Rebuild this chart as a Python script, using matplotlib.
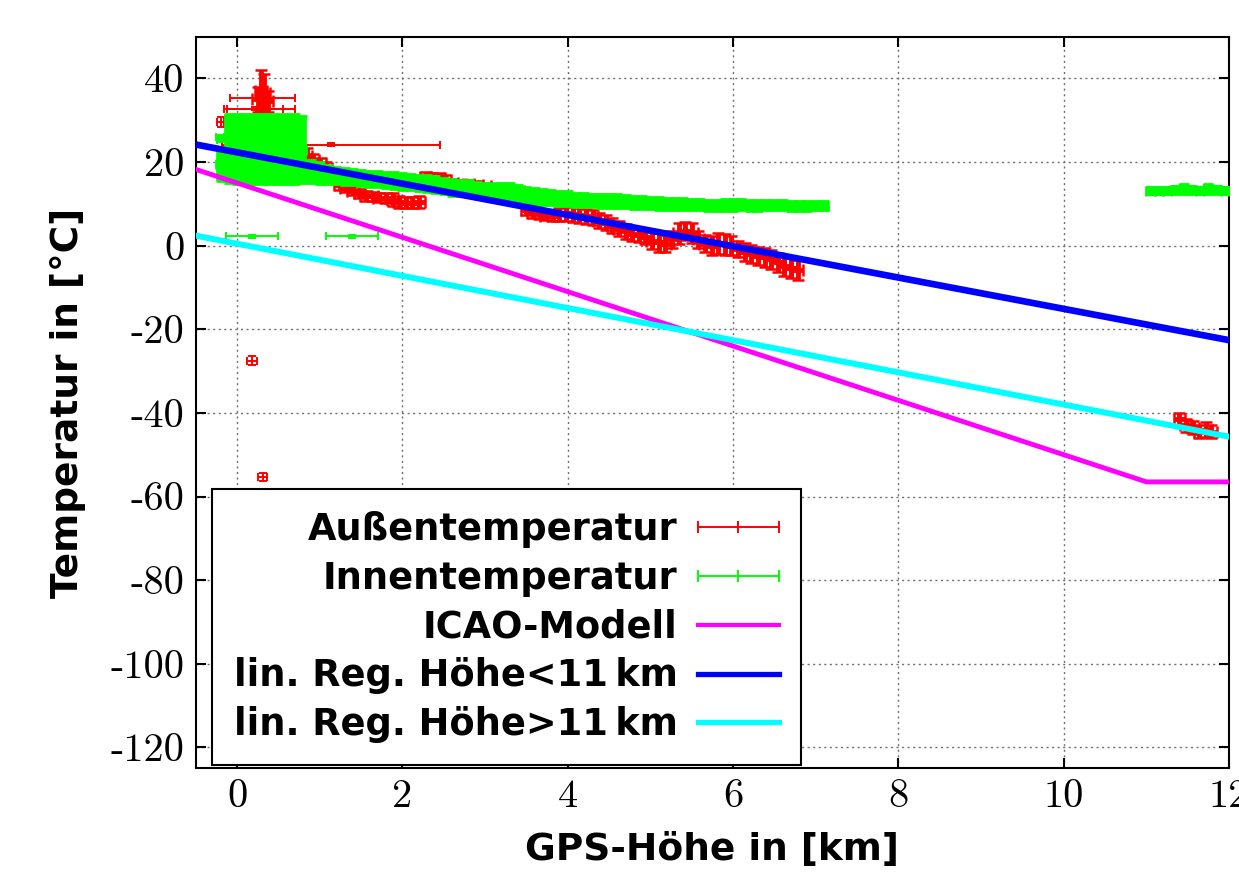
import numpy as np
import matplotlib.pyplot as plt
from matplotlib.legend_handler import HandlerErrorbar

# Außentemperatur, Einzelwerte mit großen Fehlern: Höhe [km], Temperatur [°C]
aussen_boden_x = [0.31, 0.27, 0.22, -0.20, 1.14, 0.18, 0.31]
aussen_boden_y = [35.4, 32.6, 32.8, 29.5, 24.2, -27.5, -55.4]
aussen_boden_xerr = [0.39, 0.43, 0.34, 0.04, 1.32, 0.055, 0.055]
aussen_boden_yerr = [0.3, 0.3, 0.3, 1.2, 0.3, 1.0, 1.0]

# Außentemperatur, dichter Verlauf (Boden-Spitze, Flug, Reiseflughöhe)
aussen_flug_x = [0.25, 0.29, 0.33, 0.37,
                 0.76, 0.84, 0.92, 1.00, 1.08, 1.16, 1.24, 1.32, 1.40, 1.48,
                 1.56, 1.64, 1.72, 1.80, 1.88, 1.96, 2.04, 2.12, 2.20, 2.28,
                 2.36, 2.44, 2.52, 2.60, 2.70, 2.80, 2.90, 3.00, 3.10, 3.20,
                 3.30, 3.40, 3.50, 3.58, 3.66, 3.74, 3.82, 3.90, 3.98, 4.06,
                 4.14, 4.22, 4.30, 4.38, 4.46, 4.54, 4.62, 4.70, 4.78, 4.86,
                 4.94, 5.02, 5.10, 5.18, 5.26, 5.34, 5.42, 5.50, 5.58, 5.66,
                 5.74, 5.82, 5.90, 5.98, 6.06, 6.14, 6.22, 6.30, 6.38, 6.46,
                 6.54, 6.62, 6.70, 6.78, 11.40, 11.48, 11.56, 11.64, 11.72, 11.78]
aussen_flug_y = [35.0, 37.0, 36.5, 34.5,
                 22.5, 21.5, 20.5, 19.8, 18.5, 16.5, 14.5, 13.8, 13.2, 12.5,
                 12.0, 11.8, 11.5, 11.5, 11.0, 10.5, 10.3, 10.3, 10.5, 16.5,
                 16.0, 16.2, 15.8, 15.0, 14.8, 14.7, 14.5, 14.2, 13.8, 13.5,
                 13.3, 13.0, 8.5, 7.8, 7.5, 7.2, 7.0, 7.5, 7.8, 7.5,
                 7.3, 7.0, 6.8, 6.0, 5.5, 4.8, 4.0, 3.5, 2.8, 2.5,
                 2.0, 1.2, 0.8, 0.5, 1.5, 3.0, 3.5, 3.0, 1.5, 0.5,
                 0.0, 0.5, 0.3, 0.0, -0.8, -1.5, -2.0, -2.5, -2.8, -3.3,
                 -4.0, -4.8, -5.3, -5.8, -41.5, -43.0, -43.5, -44.5, -44.0, -44.5]
aussen_flug_yerr = [3.0, 5.0, 4.5, 2.5,
                    1.5, 1.8, 1.5, 1.2, 1.5, 1.5, 1.2, 1.0, 1.0, 1.0,
                    1.2, 1.0, 1.0, 1.2, 1.5, 1.5, 1.3, 1.3, 1.5, 1.2,
                    1.3, 1.3, 1.2, 1.0, 0.9, 0.9, 0.9, 0.9, 1.0, 0.8,
                    0.8, 0.8, 1.2, 1.2, 1.0, 1.0, 1.0, 1.5, 1.8, 1.8,
                    1.8, 1.8, 1.8, 1.8, 1.8, 1.8, 1.8, 1.8, 1.6, 1.6,
                    1.6, 2.0, 2.2, 2.0, 2.0, 2.5, 2.2, 2.4, 2.0, 2.0,
                    2.2, 2.5, 2.5, 2.2, 2.0, 2.2, 2.2, 2.2, 2.2, 2.2,
                    2.2, 2.5, 2.5, 2.3, 1.5, 1.5, 1.5, 1.5, 1.8, 1.5]
aussen_flug_xerr = 0.07

# Innentemperatur: Einzelwerte
innen_einzel_x = [-0.21, -0.19, 0.18, 1.39]
innen_einzel_y = [26.0, 25.2, 2.2, 2.2]
innen_einzel_xerr = [0.05, 0.05, 0.31, 0.31]
innen_einzel_yerr = [0.4, 0.3, 0.3, 0.3]

# Innentemperatur: dichter Verlauf (Boden, Flug, Reiseflughöhe)
innen_x = [-0.20, -0.10, 0.00, 0.10, 0.20, 0.30, 0.40, 0.50, 0.60, 0.70,
           0.78, 0.90, 1.00, 1.10, 1.20, 1.30, 1.40, 1.50, 1.60, 1.70,
           1.80, 1.90, 2.00, 2.10, 2.20, 2.30, 2.40, 2.50, 2.60, 2.70,
           2.80, 2.90, 3.00, 3.10, 3.20, 3.30, 3.40, 3.50, 3.60, 3.70,
           3.80, 3.90, 4.00, 4.10, 4.20, 4.30, 4.40, 4.50, 4.60, 4.70,
           4.80, 4.90, 5.00, 5.10, 5.20, 5.30, 5.40, 5.50, 5.60, 5.70,
           5.80, 5.90, 6.00, 6.10, 6.20, 6.30, 6.40, 6.50, 6.60, 6.70,
           6.80, 6.90, 7.00, 7.10,
           11.05, 11.15, 11.25, 11.35, 11.45, 11.55, 11.65, 11.75, 11.85, 11.95]
innen_y = [19.5, 23.2, 23.2, 23.2, 23.2, 23.2, 23.2, 23.2, 23.2, 23.2,
           23.0, 17.8, 17.3, 17.0, 16.8, 16.6, 16.4, 16.2, 16.0, 15.9,
           15.7, 15.6, 15.3, 15.2, 15.0, 14.8, 14.6, 14.3, 14.0, 13.8,
           13.6, 13.3, 13.0, 12.9, 12.7, 12.6, 12.3, 12.0, 11.8, 11.6,
           11.5, 11.4, 11.3, 11.0, 10.9, 10.8, 10.7, 10.7, 10.6, 10.5,
           10.4, 10.3, 10.2, 10.1, 10.0, 9.9, 9.9, 9.8, 9.8, 9.7,
           9.7, 9.7, 9.8, 9.8, 9.7, 9.7, 9.7, 9.7, 9.7, 9.6,
           9.6, 9.6, 9.6, 9.6,
           13.2, 13.2, 13.2, 13.3, 13.6, 13.3, 13.2, 13.6, 13.3, 13.2]
innen_yerr = [4.0, 8.3, 8.4, 8.4, 8.4, 8.4, 8.4, 8.4, 8.4, 8.4,
              8.0, 2.8, 2.6, 2.3, 2.0, 2.0, 1.9, 1.9, 1.9, 1.9,
              2.0, 2.0, 2.0, 1.9, 2.0, 2.0, 2.0, 2.0, 2.0, 2.0,
              2.0, 1.9, 1.9, 2.1, 2.2, 2.4, 2.3, 2.0, 2.0, 1.9,
              1.8, 1.8, 1.8, 1.7, 1.7, 1.6, 1.6, 1.7, 1.7, 1.6,
              1.6, 1.6, 1.5, 1.5, 1.5, 1.4, 1.4, 1.3, 1.3, 1.3,
              1.3, 1.4, 1.4, 1.3, 1.3, 1.3, 1.2, 1.2, 1.2, 1.2,
              1.2, 1.2, 1.1, 1.1,
              0.9, 0.9, 0.9, 1.0, 1.2, 0.9, 0.9, 1.2, 0.9, 0.9]
innen_xerr = 0.05

# ICAO-Standardatmosphäre und lineare Regressionen
icao_x = [-0.5, 11.0, 12.0]
icao_y = [18.25, -56.5, -56.5]
reg_unten_x = [-0.5, 12.0]
reg_unten_y = [24.2, -22.6]
reg_oben_x = [-0.5, 12.0]
reg_oben_y = [2.4, -45.7]

x_ticks = [0, 2, 4, 6, 8, 10, 12]
y_ticks = [40, 20, 0, -20, -40, -60, -80, -100, -120]


def main():
    plt.rcParams['font.family'] = 'cmr10'
    plt.rcParams['axes.unicode_minus'] = False

    fig, ax = plt.subplots(figsize=(12.39, 8.73), dpi=100)
    fig.subplots_adjust(left=0.158, right=0.992, bottom=0.120, top=0.958)

    # Messwerte außen
    ax.errorbar(aussen_boden_x, aussen_boden_y, xerr=aussen_boden_xerr,
                yerr=aussen_boden_yerr, fmt='none', ecolor='#ff0000',
                elinewidth=1.4, capsize=3, capthick=1.4, zorder=2)
    ax.errorbar(aussen_flug_x, aussen_flug_y, xerr=aussen_flug_xerr,
                yerr=aussen_flug_yerr, fmt='none', ecolor='#ff0000',
                elinewidth=3.5, capsize=4, capthick=1.8, zorder=2)

    # Messwerte innen
    ax.errorbar(innen_einzel_x, innen_einzel_y, xerr=innen_einzel_xerr,
                yerr=innen_einzel_yerr, fmt='none', ecolor='#00ff00',
                elinewidth=1.4, capsize=3, capthick=1.4, zorder=3)
    ax.errorbar(innen_x, innen_y, xerr=innen_xerr, yerr=innen_yerr,
                fmt='none', ecolor='#00ff00', elinewidth=7, capsize=3.5,
                capthick=2, zorder=3)

    # Modelle
    ax.plot(icao_x, icao_y, color='#ff00ff', lw=3.5, zorder=4)
    ax.plot(reg_unten_x, reg_unten_y, color='#0000ff', lw=4.8, zorder=4)
    ax.plot(reg_oben_x, reg_oben_y, color='#00ffff', lw=4.3, zorder=4)

    # Legenden-Stellvertreter
    h_aussen = ax.errorbar([np.nan], [np.nan], xerr=[1], fmt='|', color='#ff0000',
                           ms=8, mew=1.4, elinewidth=1.4, capsize=4, capthick=1.4)
    h_innen = ax.errorbar([np.nan], [np.nan], xerr=[1], fmt='|', color='#00ff00',
                          ms=8, mew=1.4, elinewidth=1.4, capsize=4, capthick=1.4)
    h_icao, = ax.plot([], [], color='#ff00ff', lw=3)
    h_unten, = ax.plot([], [], color='#0000ff', lw=3.8)
    h_oben, = ax.plot([], [], color='#00ffff', lw=3.8)

    ax.set_xlim(-0.5, 12)
    ax.set_ylim(-125, 50)
    ax.set_xticks(x_ticks)
    ax.set_yticks(y_ticks)
    ax.tick_params(direction='in', top=True, right=True, length=7, width=1.5,
                   labelsize=29, pad=8)
    ax.grid(True, color='#707070', linestyle=(0, (1.5, 2.5)), lw=1)
    ax.set_axisbelow(True)
    for s in ax.spines.values():
        s.set_linewidth(1.5)

    lab = dict(family='DejaVu Sans', weight='bold', size=27)
    ax.set_xlabel('GPS-Höhe in [km]', labelpad=12, **lab)
    ax.set_ylabel('Temperatur in [°C]', labelpad=18, **lab)

    leg = ax.legend([h_aussen, h_innen, h_icao, h_unten, h_oben],
                    ['Außentemperatur', 'Innentemperatur', 'ICAO-Modell',
                     'lin. Reg. Höhe<11\u2009km', 'lin. Reg. Höhe>11\u2009km'],
                    loc='lower left', bbox_to_anchor=(0.0155, 0.004),
                    borderaxespad=0, markerfirst=False, fancybox=False,
                    framealpha=1, edgecolor='black',
                    prop=dict(family='DejaVu Sans', weight='bold', size=26.5),
                    handlelength=2.2, handletextpad=0.55, labelspacing=0.32,
                    borderpad=0.6,
                    handler_map={h_aussen: HandlerErrorbar(xerr_size=1.1),
                                 h_innen: HandlerErrorbar(xerr_size=1.1)})
    leg.get_frame().set_linewidth(1.5)

    fig.savefig('out.png', dpi=100)


if __name__ == '__main__':
    main()
